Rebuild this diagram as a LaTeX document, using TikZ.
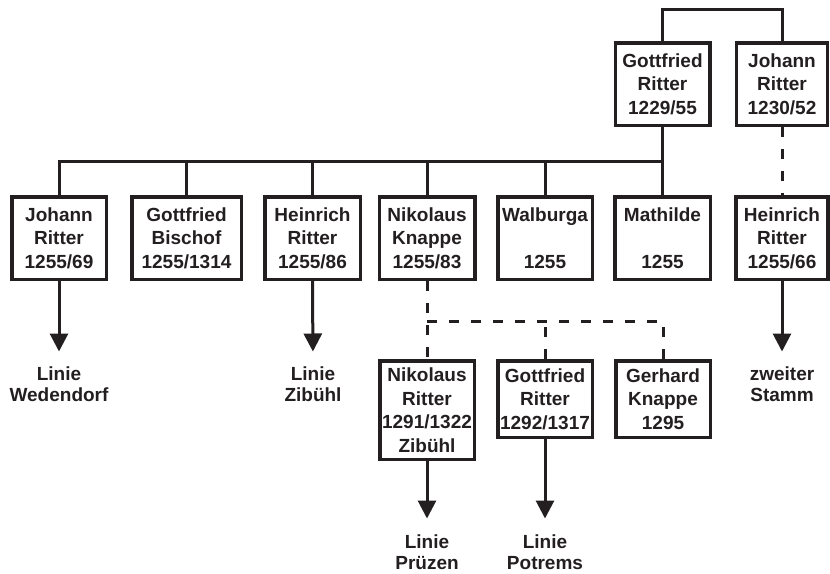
\documentclass[tikz,border=0pt]{standalone}
\usepackage{fontspec}
\setmainfont{Liberation Sans}
\usetikzlibrary{arrows.meta}
\definecolor{ink}{RGB}{35,31,32}
\begin{document}
\begin{tikzpicture}[x=1pt,y=-1pt,
  person/.style={draw=ink,line width=3.5pt,inner sep=0pt,align=center,
    text=ink,font=\bfseries\fontsize{19}{23.5}\selectfont,
    minimum width=94.5pt,minimum height=82.5pt},
  lineage/.style={inner sep=0pt,anchor=north,align=center,text=ink,
    font=\bfseries\fontsize{19}{21.5}\selectfont},
  link/.style={draw=ink,line width=3pt},
  hint/.style={draw=ink,line width=3pt,dash pattern=on 10pt off 12pt},
  descent/.style={draw=ink,line width=3pt,-{Triangle[width=18pt,length=18pt]},shorten >=15pt}]
\useasboundingbox (0,0) rectangle (830,573);

% first generation
\node[person] (gr) at (662.5,84) {Gottfried\\Ritter\\1229/55};
\node[person,minimum width=91pt] (jr) at (782,84) {Johann\\Ritter\\1230/52};

% second generation
\node[person] (j1) at (59,238) {Johann\\Ritter\\1255/69};
\node[person,minimum width=109.5pt] (gb) at (186.5,238) {Gottfried\\Bischof\\1255/1314};
\node[person,minimum width=95.5pt] (h1) at (312.5,238) {Heinrich\\Ritter\\1255/86};
\node[person,minimum width=95.5pt] (nk) at (427,238) {Nikolaus\\Knappe\\1255/83};
\node[person] (wa) at (545,238) {Walburga\\\strut\\1255};
\node[person,minimum width=95.5pt] (ma) at (662.5,238) {Mathilde\\\strut\\1255};
\node[person,minimum width=92pt] (h2) at (782,238) {Heinrich\\Ritter\\1255/66};

% third generation
\node[person,minimum height=98.5pt] (nr) at (427,410) {Nikolaus\\Ritter\\1291/1322\\Zibühl};
\node[person,minimum height=76.5pt] (gr2) at (545,399) {Gottfried\\Ritter\\1292/1317};
\node[person,minimum height=76.5pt] (gk) at (663,399) {Gerhard\\Knappe\\1295};

% lines of descent
\node[lineage] (lw) at (59,366.5) {Linie\\Wedendorf};
\node[lineage] (lz) at (313,366.5) {Linie\\Zibühl};
\node[lineage] (zs) at (782,366.5) {zweiter\\Stamm};
\node[lineage] (lp) at (427,534.5) {Linie\\Prüzen};
\node[lineage] (lt) at (545,534.5) {Linie\\Potrems};

% brothers at the top
\draw[link] (gr.north) -- ++(0,-32) -| (jr.north);

% children of Gottfried
\coordinate (bar) at (662.5,161);
\draw[link] (gr.south) -- (ma.north);
\draw[link] (j1.north) |- (bar);
\foreach \c in {gb,h1,nk,wa}
  \draw[link] (\c.north) -- (\c.north |- bar);

% uncertain descent
\coordinate (dbar) at (0,321);
\draw[hint] (jr.south) -- (h2.north);
\draw[hint] (nk.south) -- (nr.north);
\draw[hint] (nk.south |- dbar) -| (gk.north);
\draw[hint] (gr2.north) -- (gr2.north |- dbar);

% arrows to later lines
\draw[descent] (j1.south) -- (lw.north);
\draw[descent] (h1.south) -- (lz.north);
\draw[descent] (h2.south) -- (zs.north);
\draw[descent] (nr.south) -- ([yshift=1pt]lp.north);
\draw[descent] (gr2.south) -- ([yshift=1pt]lt.north);
\end{tikzpicture}
\end{document}
